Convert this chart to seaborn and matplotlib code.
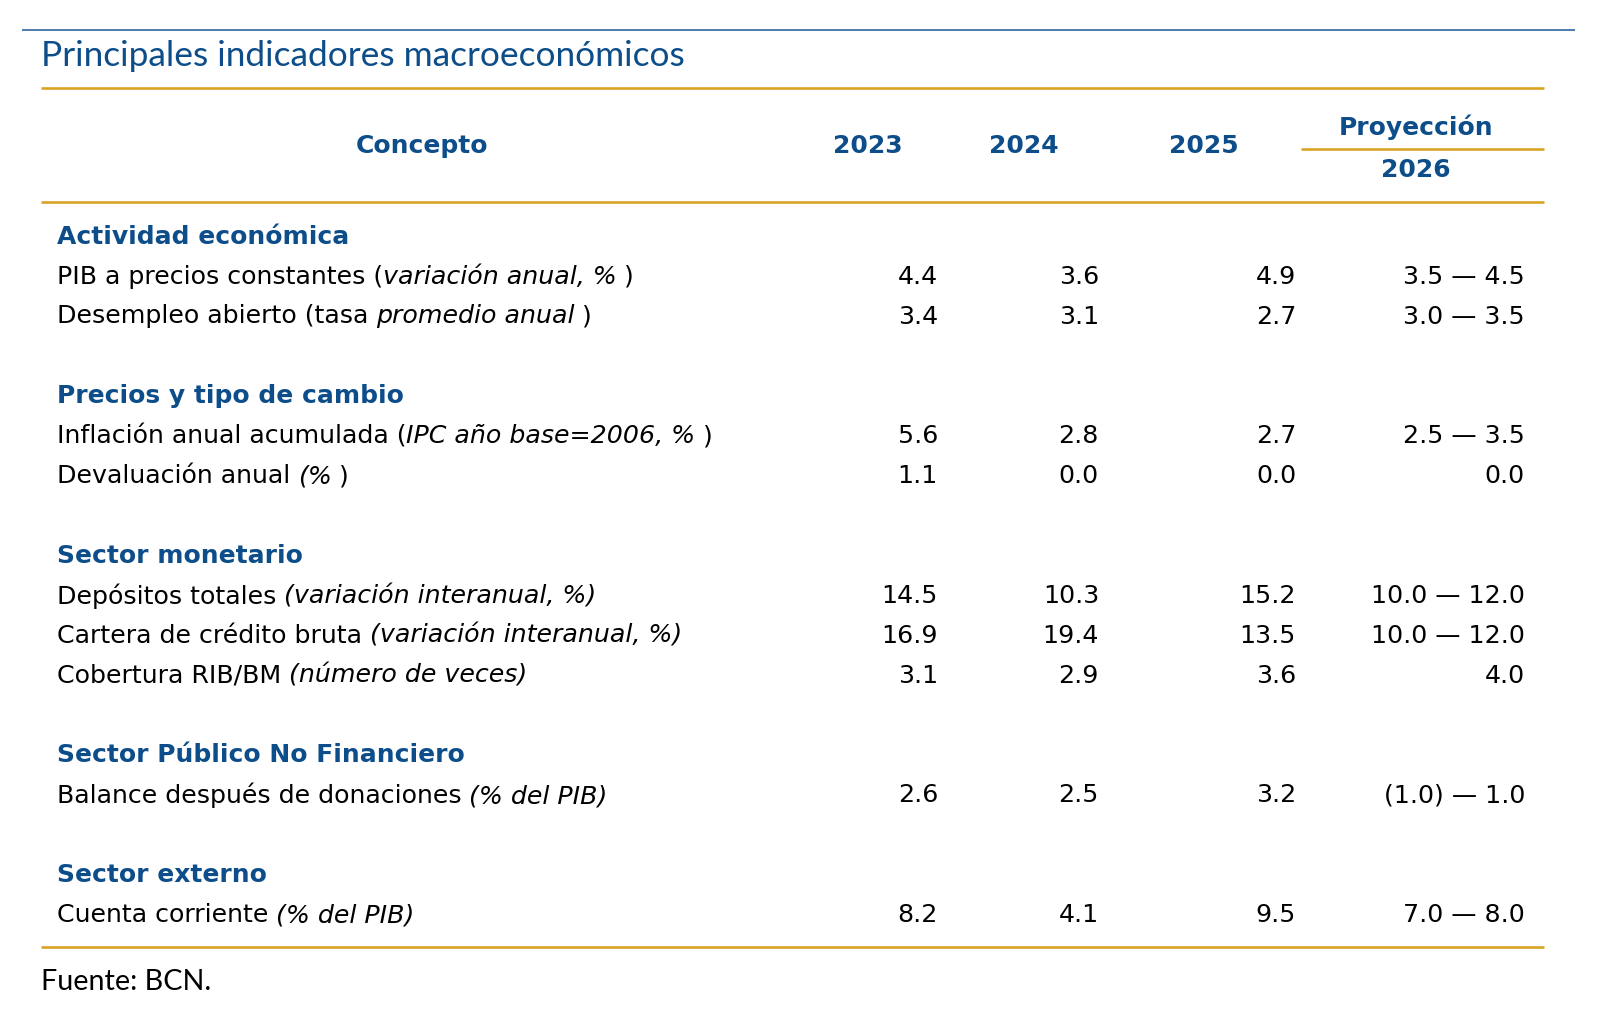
import matplotlib
matplotlib.use("Agg")
import matplotlib.pyplot as plt
import seaborn as sns

# ---------------- data ----------------
title = "Principales indicadores macroeconómicos"
source = "Fuente: BCN."
header_concept = "Concepto"
years = ["2023", "2024", "2025"]
proj_label = "Proyección"
proj_year = "2026"

sections = ["Actividad económica", "Precios y tipo de cambio", "Sector monetario",
            "Sector Público No Financiero", "Sector externo"]
section_sizes = [2, 2, 3, 1, 1]

# label segments: (text, italic)
labels = [
    [("PIB a precios constantes (", False), ("variación anual, % ", True), (")", False)],
    [("Desempleo abierto (tasa ", False), ("promedio anual ", True), (")", False)],
    [("Inflación anual acumulada (", False), ("IPC año base=2006, % ", True), (")", False)],
    [("Devaluación anual ", False), ("(% ", True), (")", False)],
    [("Depósitos totales ", False), ("(variación interanual, %)", True)],
    [("Cartera de crédito bruta ", False), ("(variación interanual, %)", True)],
    [("Cobertura RIB/BM ", False), ("(número de veces)", True)],
    [("Balance después de donaciones ", False), ("(% del PIB)", True)],
    [("Cuenta corriente ", False), ("(% del PIB)", True)],
]
values_2023 = ["4.4", "3.4", "5.6", "1.1", "14.5", "16.9", "3.1", "2.6", "8.2"]
values_2024 = ["3.6", "3.1", "2.8", "0.0", "10.3", "19.4", "2.9", "2.5", "4.1"]
values_2025 = ["4.9", "2.7", "2.7", "0.0", "15.2", "13.5", "3.6", "3.2", "9.5"]
proj_2026 = ["3.5 — 4.5", "3.0 — 3.5", "2.5 — 3.5", "0.0", "10.0 — 12.0",
             "10.0 — 12.0", "4.0", "(1.0) — 1.0", "7.0 — 8.0"]

# ---------------- style ----------------
sns.set_theme(style="white")
plt.rcParams["font.family"] = ["DejaVu Sans"]

BLUE = "#0c4d8a"
LINEBLUE = "#2f64a0"
GOLD = "#d9a424"
BODY = 18.2
BOLD = 18.0

W, H = 1600, 1016
fig = plt.figure(figsize=(W / 100, H / 100), dpi=100)
ax = fig.add_axes([0, 0, 1, 1])
ax.set_xlim(0, W)
ax.set_ylim(H, 0)
ax.axis("off")

# rules
ax.plot([22, 1575], [30, 30], color=LINEBLUE, lw=1.2, solid_capstyle="butt")
for y in (88, 202, 947):
    ax.plot([41, 1544], [y, y], color=GOLD, lw=1.9, solid_capstyle="butt")
ax.plot([1301, 1544], [148.5, 148.5], color=GOLD, lw=1.9, solid_capstyle="butt")

fig.canvas.draw()
renderer = fig.canvas.get_renderer()


def fit_text(x, y, s, target_w, fs0, **kw):
    t = ax.text(x, y, s, fontsize=fs0, **kw)
    w = t.get_window_extent(renderer).width
    t.set_fontsize(fs0 * target_w / w)
    return t


fit_text(41, 66, title, 643, 26, family="Lato", color=BLUE, va="baseline", ha="left")
fit_text(41, 982, source, 170, 18, family="Lato", color="black",
         va="center", ha="left")

# header
hdr = dict(fontsize=BOLD, fontweight="bold", color=BLUE, va="center", ha="center")
ax.text(422, 146, header_concept, **hdr)
year_x = [868, 1024, 1204]
for yx, yr in zip(year_x, years):
    ax.text(yx, 146, yr, **hdr)
ax.text(1416, 127, proj_label, **hdr)
ax.text(1416, 170, proj_year, **hdr)

# body
ROW0, DY = 236.7, 39.9
LX = 57
col_right = [938, 1099, 1296, 1525]
cols = [values_2023, values_2024, values_2025, proj_2026]
space_pt = 0.3 * BODY


def draw_label(x, y, parts):
    prev = None
    pending = 0
    for s, it in parts:
        lead = len(s) - len(s.lstrip(" "))
        core = s.strip(" ")
        trail = len(s) - len(s.rstrip(" "))
        gap = (pending + lead) * space_pt
        style = "italic" if it else "normal"
        if prev is None:
            t = ax.text(x, y, core, fontsize=BODY, style=style, color="black",
                        va="center", ha="left")
        else:
            t = ax.annotate(core, xy=(1, 0), xycoords=prev, xytext=(gap, 0),
                            textcoords="offset points", fontsize=BODY, style=style,
                            color="black", va="bottom", ha="left")
        pending = trail
        prev = t


row = 0
k = 0
for sec, n in zip(sections, section_sizes):
    y = ROW0 + DY * row
    ax.text(LX, y, sec, fontsize=BOLD, fontweight="bold", color=BLUE,
            va="center", ha="left")
    row += 1
    for _ in range(n):
        y = ROW0 + DY * row
        draw_label(LX, y, labels[k])
        for cx, vals in zip(col_right, cols):
            ax.text(cx, y, vals[k], fontsize=BODY, color="black", va="center", ha="right")
        row += 1
        k += 1
    row += 1

fig.savefig("out.png", dpi=100, facecolor="white")
